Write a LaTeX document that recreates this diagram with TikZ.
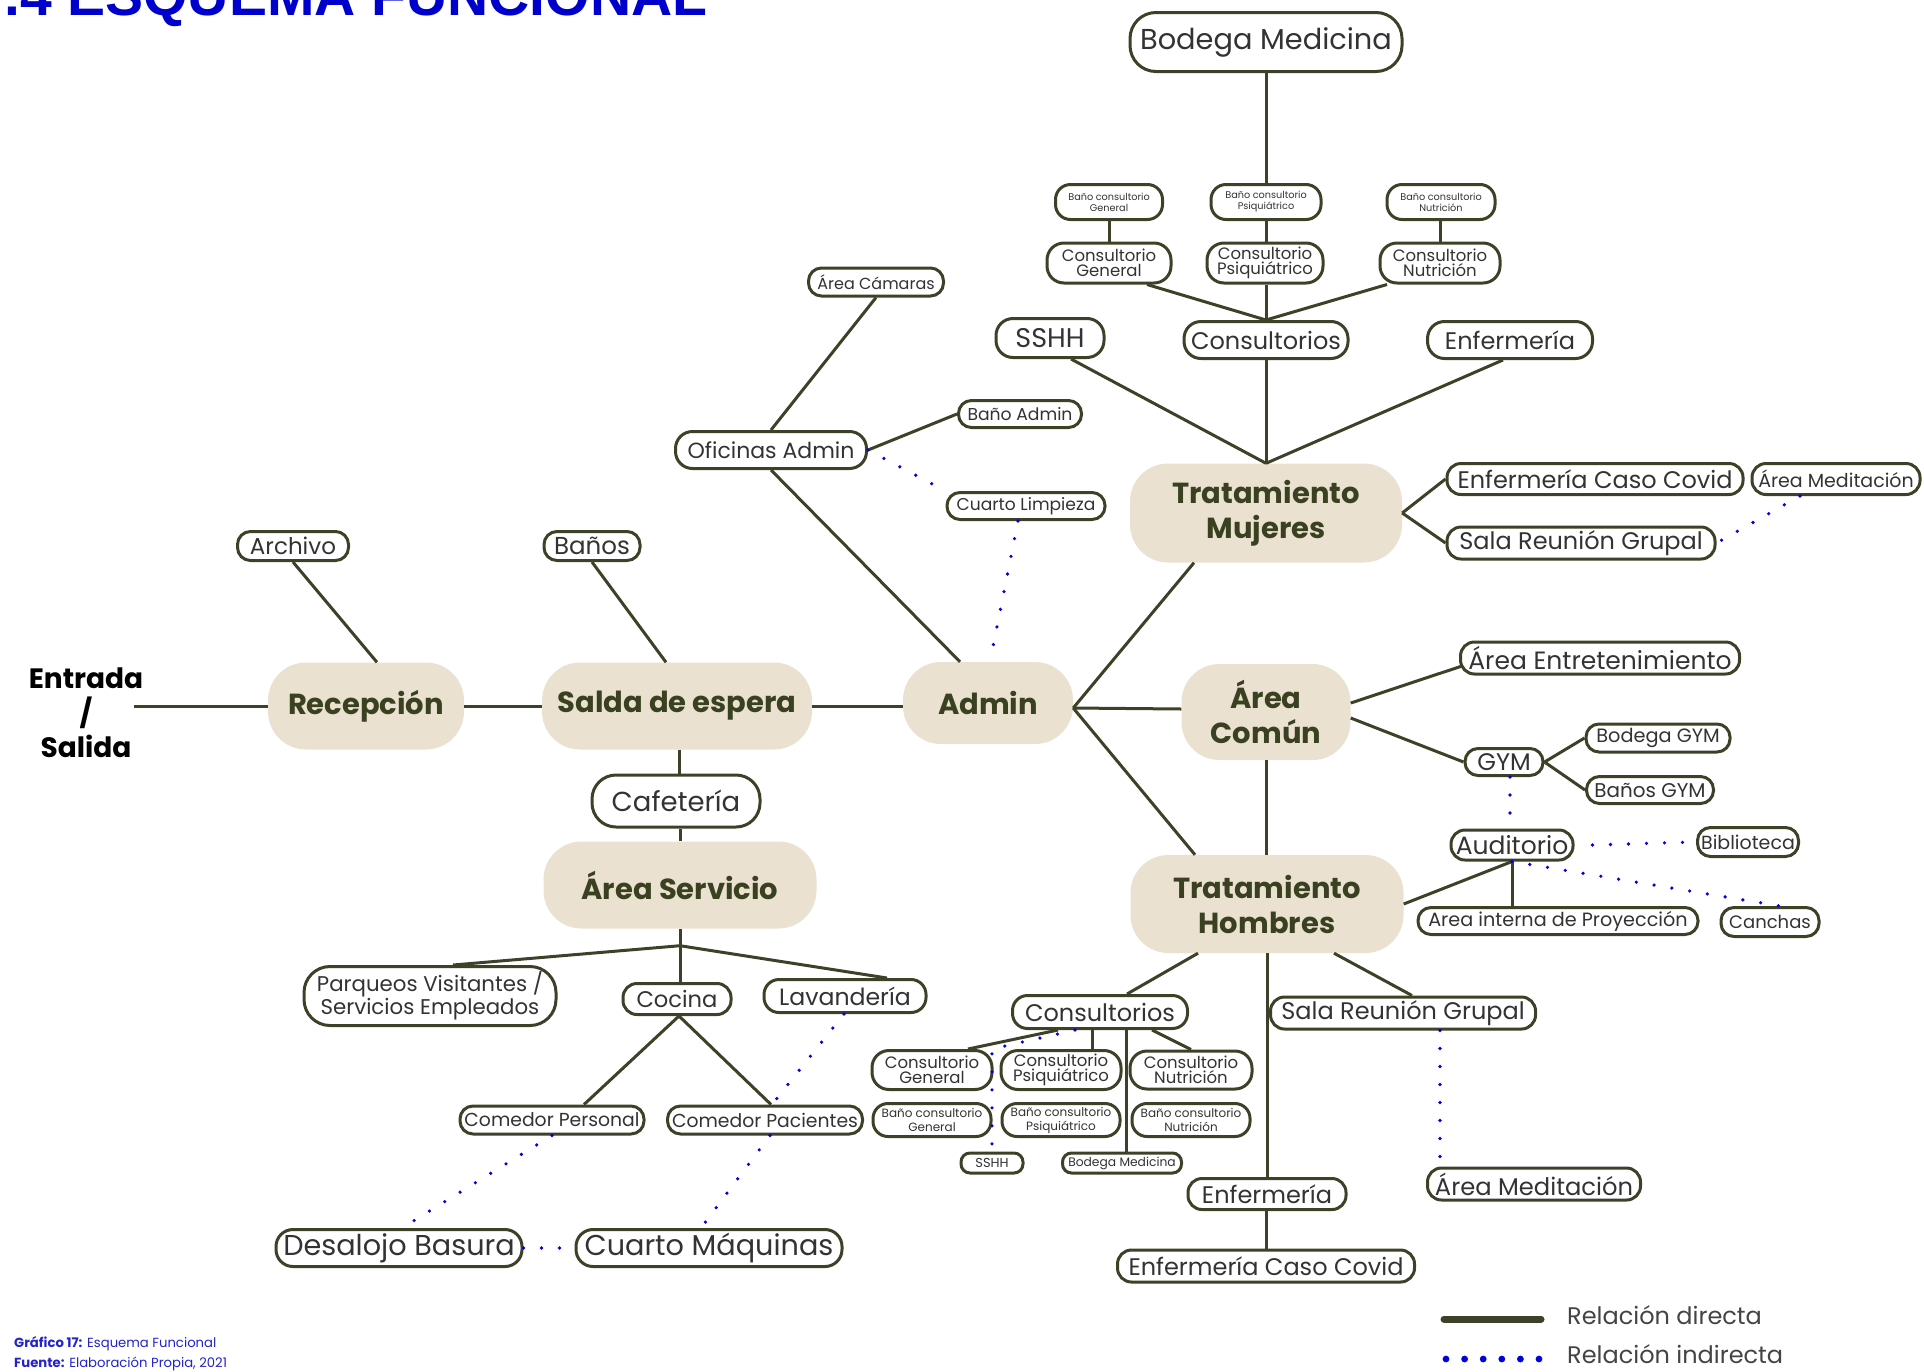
\documentclass[tikz,border=0pt]{standalone}
\usepackage{fontspec}
\setmainfont{Poppins}
\newfontfamily\titlefont{Liberation Sans}
\newcommand\fsz[2]{\fontsize{#1}{#2}\selectfont}
\definecolor{olive}{HTML}{3D4127}
\definecolor{beige}{HTML}{EAE1D0}
\definecolor{coretxt}{HTML}{3A4120}
\definecolor{txt}{HTML}{333333}
\definecolor{dblue}{HTML}{0000E0}
\definecolor{tblue}{HTML}{0000CC}
\definecolor{capblue}{HTML}{2323C8}
\definecolor{legtxt}{HTML}{444444}
\tikzset{
  conn/.style={draw=olive, line width=3pt},
  ind/.style={draw=dblue, line width=3.6pt, line cap=round, dash pattern=on 0pt off 18pt},
  pill/.style={draw=olive, line width=3pt, fill=white, text=txt, inner sep=0pt, align=center, rounded corners=#1},
  pill/.default=13pt,
  core/.style={fill=beige, text=coretxt, inner sep=0pt, align=center, rounded corners=38pt, font=\bfseries\fsz{29}{35}},
}
\begin{document}
\begin{tikzpicture}[x=1pt,y=-1pt]
\useasboundingbox (0,0) rectangle (1924,1371);
\clip (0,0) rectangle (1924,1371);

% title and caption
\node[anchor=base west, inner sep=0pt, font=\titlefont\bfseries\fsz{57}{60}, text=tblue] (title) at (4,15) {.4 ESQUEMA FUNCIONAL};
\node[anchor=base west, inner sep=0pt, font=\fsz{13.2}{15}, text=capblue] (cap1) at (14,1347) {\textbf{Gráfico 17:} Esquema Funcional};
\node[anchor=base west, inner sep=0pt, font=\fsz{13.2}{15}, text=capblue] (cap2) at (14,1367) {\textbf{Fuente:} Elaboración Propia, 2021};

% ---------- upper tree (Tratamiento Mujeres)
\node[pill=26pt, minimum width=272pt, minimum height=59pt, font=\fsz{28.8}{30}] (bodT) at (1266,42) {Bodega Medicina};
\node[pill=15pt, minimum width=107pt, minimum height=35pt, font=\fsz{9.7}{11}] (bgT) at (1109,202) {Baño consultorio\\General};
\node[pill=15pt, minimum width=110pt, minimum height=35pt, font=\fsz{9.7}{11}] (bpT) at (1266,202) {Baño consultorio\\Psiquiátrico};
\node[pill=15pt, minimum width=108pt, minimum height=35pt, font=\fsz{9.7}{11}] (bnT) at (1441,202) {Baño consultorio\\Nutrición};
\node[pill=17pt, minimum width=124pt, minimum height=40pt, font=\fsz{16.5}{15}] (cgT) at (1109,263) {Consultorio\\General};
\node[pill=17pt, minimum width=116pt, minimum height=40pt, font=\fsz{16.5}{15}] (cpT) at (1265,263) {Consultorio\\Psiquiátrico};
\node[pill=17pt, minimum width=120pt, minimum height=40pt, font=\fsz{16.5}{15}] (cnT) at (1440,263) {Consultorio\\Nutrición};
\node[pill=17pt, minimum width=108pt, minimum height=39pt, font=\fsz{27}{29}] (sshhT) at (1050,338) {SSHH};
\node[pill=17pt, minimum width=164pt, minimum height=37pt, font=\fsz{24}{26}] (consT) at (1266,340) {Consultorios};
\node[pill=17pt, minimum width=165pt, minimum height=37pt, font=\fsz{24}{26}] (enfT) at (1510,340) {Enfermería};
\node[core, minimum width=272pt, minimum height=99pt] (tm) at (1266,513) {Tratamiento\\Mujeres};
\node[pill=14pt, minimum width=296pt, minimum height=31pt, font=\fsz{24}{26}] (ecovT) at (1595,479) {Enfermería Caso Covid};
\node[pill=14pt, minimum width=168pt, minimum height=31pt, font=\fsz{19}{21}] (medT) at (1836,479) {Área Meditación};
\node[pill=14pt, minimum width=268pt, minimum height=32pt, font=\fsz{24}{26}] (srgT) at (1581,543) {Sala Reunión Grupal};

% ---------- admin branch
\node[pill=13pt, minimum width=135pt, minimum height=28pt, font=\fsz{16}{18}] (camaras) at (876,282) {Área Cámaras};
\node[pill=17pt, minimum width=191pt, minimum height=37pt, font=\fsz{22}{24}] (ofic) at (771,450) {Oficinas Admin};
\node[pill=13pt, minimum width=123pt, minimum height=27pt, font=\fsz{17.2}{19}] (banoadm) at (1020,414) {Baño Admin};
\node[pill=13pt, minimum width=158pt, minimum height=27pt, font=\fsz{17.1}{19}] (limp) at (1026,506) {Cuarto Limpieza};

% ---------- main row
\node[inner sep=0pt, align=center, font=\bfseries\fsz{28}{34.5}, text=black] (es) at (86,713) {Entrada\\/\\Salida};
\node[core, minimum width=196pt, minimum height=87pt] (recep) at (366,706) {Recepción};
\node[core, minimum width=270pt, minimum height=87pt] (sala) at (677,706) {Salda de espera};
\node[core, minimum width=170pt, minimum height=82pt] (admin) at (988,703) {Admin};
\node[pill=13pt, minimum width=111pt, minimum height=29pt, font=\fsz{23}{25}] (archivo) at (293,546) {Archivo};
\node[pill=13pt, minimum width=96pt, minimum height=29pt, font=\fsz{24.5}{26}] (banos) at (592,546) {Baños};

% ---------- service branch
\node[pill=24pt, minimum width=168pt, minimum height=52pt, font=\fsz{27.5}{29}] (cafe) at (676,801) {Cafetería};
\node[core, minimum width=273pt, minimum height=87pt] (asrv) at (680,885) {Área Servicio};
\coordinate (J) at ([yshift=-17pt]asrv.south);
\node[pill=26pt, minimum width=252pt, minimum height=59pt, font=\fsz{21.3}{23}] (parq) at (430,996) {Parqueos Visitantes /\\Servicios Empleados};
\node[pill=14pt, minimum width=108pt, minimum height=31pt, font=\fsz{22.6}{24}] (cocina) at (677,999) {Cocina};
\node[pill=15pt, minimum width=162pt, minimum height=33pt, font=\fsz{23.6}{26}] (lav) at (845,996) {Lavandería};
\node[pill=13pt, minimum width=184pt, minimum height=28pt, font=\fsz{18.8}{21}] (cper) at (552,1120) {Comedor Personal};
\node[pill=13pt, minimum width=195pt, minimum height=28pt, font=\fsz{18.8}{21}] (cpac) at (765,1120) {Comedor Pacientes};
\node[pill=17pt, minimum width=246pt, minimum height=37pt, font=\fsz{28.7}{31}] (desalojo) at (399,1248) {Desalojo Basura};
\node[pill=17pt, minimum width=266pt, minimum height=37pt, font=\fsz{28.7}{31}] (maquinas) at (709,1248) {Cuarto Máquinas};

% ---------- area comun
\node[core, minimum width=169pt, minimum height=96pt] (ac) at (1266,712) {Área\\Común};
\node[pill=14pt, minimum width=279pt, minimum height=32pt, font=\fsz{25}{27}] (entret) at (1600,658) {Área Entretenimiento};
\node[pill=13pt, minimum width=78pt, minimum height=27pt, font=\fsz{24}{26}] (gym) at (1504,762) {GYM};
\node[pill=13pt, minimum width=144pt, minimum height=28pt, font=\fsz{19.3}{21}] (bgym) at (1658,738) {Bodega GYM};
\node[pill=13pt, minimum width=127pt, minimum height=27pt, font=\fsz{19.9}{21}] (bagym) at (1650,790) {Baños GYM};
\node[pill=14pt, minimum width=122pt, minimum height=30pt, font=\fsz{25}{27}] (audit) at (1512,845) {Auditorio};
\node[pill=13pt, minimum width=101pt, minimum height=29pt, font=\fsz{19}{21}] (biblio) at (1748,842) {Biblioteca};
\node[pill=13pt, minimum width=280pt, minimum height=27pt, font=\fsz{19.2}{21}] (proy) at (1558,921) {Area interna de Proyección};
\node[pill=13pt, minimum width=98pt, minimum height=29pt, font=\fsz{18}{20}] (canchas) at (1770,922) {Canchas};

% ---------- Tratamiento Hombres
\node[core, minimum width=273pt, minimum height=98pt] (th) at (1267,904) {Tratamiento\\Hombres};
\node[pill=15pt, minimum width=175pt, minimum height=33pt, font=\fsz{24}{26}] (consB) at (1100,1012) {Consultorios};
\node[pill=17pt, minimum width=120pt, minimum height=39pt, font=\fsz{16.5}{15}] (cgB) at (932,1070) {Consultorio\\General};
\node[pill=17pt, minimum width=120pt, minimum height=39pt, font=\fsz{16.5}{15}] (cpB) at (1061,1070) {Consultorio\\Psiquiátrico};
\node[pill=17pt, minimum width=122pt, minimum height=38pt, font=\fsz{16.5}{15}] (cnB) at (1191,1070) {Consultorio\\Nutrición};
\node[pill=15pt, minimum width=118pt, minimum height=33pt, font=\fsz{12}{14}] (bgB) at (932,1120) {Baño consultorio\\General};
\node[pill=15pt, minimum width=118pt, minimum height=33pt, font=\fsz{12}{14}] (bpB) at (1061,1120) {Baño consultorio\\Psiquiátrico};
\node[pill=15pt, minimum width=118pt, minimum height=33pt, font=\fsz{12}{14}] (bnB) at (1191,1120) {Baño consultorio\\Nutrición};
\node[pill=9pt, minimum width=62pt, minimum height=20pt, font=\fsz{13}{15}] (sshhB) at (992,1163) {SSHH};
\node[pill=9pt, minimum width=119pt, minimum height=20pt, font=\fsz{12.3}{14}] (bodB) at (1122,1163) {Bodega Medicina};
\node[pill=14pt, minimum width=265pt, minimum height=32pt, font=\fsz{24}{26}] (srgB) at (1403,1013) {Sala Reunión Grupal};
\node[pill=14pt, minimum width=213pt, minimum height=32pt, font=\fsz{24.2}{26}] (medB) at (1534,1184) {Área Meditación};
\node[pill=14pt, minimum width=158pt, minimum height=31pt, font=\fsz{24}{26}] (enfB) at (1267,1194) {Enfermería};
\node[pill=14pt, minimum width=297pt, minimum height=32pt, font=\fsz{24}{26}] (ecovB) at (1266,1266) {Enfermería Caso Covid};

% ---------- direct connectors
\draw[conn] ([xshift=-9pt]es.east |- recep.west) -- (recep.west);
\draw[conn] (recep.east) -- (sala.west);
\draw[conn] (sala.east) -- (admin.west |- sala.east);
\draw[conn] (archivo.south) -- ([xshift=11pt]recep.north);
\draw[conn] (banos.south) -- ([xshift=-11pt]sala.north);
\draw[conn] ([xshift=2pt]sala.south) -- ([xshift=3pt]cafe.north);
\draw[conn] ([xshift=4pt]cafe.south) -- (asrv.north);
\draw[conn] (asrv.south) -- (J);
\draw[conn] (J) -- ([xshift=23pt]parq.north);
\draw[conn] (J) -- ([xshift=3pt]cocina.north);
\draw[conn] (J) -- ([xshift=42pt]lav.north);
\draw[conn] ([xshift=2pt]cocina.south) -- ([xshift=32pt]cper.north);
\draw[conn] ([xshift=2pt]cocina.south) -- ([xshift=6pt]cpac.north);
\draw[conn] (ofic.north) -- (camaras.south);
\draw[conn] (ofic.south) -- ([xshift=-28pt]admin.north);
\draw[conn] (ofic.east) -- (banoadm.west);
\draw[conn] ([yshift=-5pt]admin.east) -- ([xshift=-72pt]tm.south);
\draw[conn] ([yshift=-5pt]admin.east) -- ([yshift=3pt]ac.west);
\draw[conn] ([yshift=-5pt]admin.east) -- ([xshift=-72pt]th.north);
\draw[conn] (tm.north) -- ([xshift=21pt]sshhT.south);
\draw[conn] (tm.north) -- (consT.south);
\draw[conn] (tm.north) -- ([xshift=-7pt]enfT.south);
\draw[conn] (consT.north) -- ([xshift=38pt]cgT.south);
\draw[conn] (consT.north) -- ([xshift=1pt]cpT.south);
\draw[conn] (consT.north) -- ([xshift=-53pt]cnT.south);
\draw[conn] (cgT.north) -- (bgT.south);
\draw[conn] ([xshift=1pt]cpT.north) -- (bpT.south);
\draw[conn] (cnT.north) -- ([xshift=-1pt]bnT.south);
\draw[conn] (bpT.north) -- (bodT.south);
\draw[conn] (tm.east) -- (ecovT.west);
\draw[conn] (tm.east) -- (srgT.west);
\draw[conn] ([yshift=9pt]ac.east) -- ([xshift=3pt,yshift=-8pt]entret.west);
\draw[conn] ([yshift=-6pt]ac.east) -- (gym.west);
\draw[conn] (gym.east) -- (bgym.west);
\draw[conn] (gym.east) -- (bagym.west);
\draw[conn] (ac.south) -- ([xshift=-1pt]th.north);
\draw[conn] (th.east) -- (audit.south);
\draw[conn] (audit.south) -- ([xshift=-46pt]proy.north);
\draw[conn] ([xshift=-69pt]th.south) -- ([xshift=27pt]consB.north);
\draw[conn] ([xshift=67pt]th.south) -- ([xshift=9pt]srgB.north);
\draw[conn] (th.south) -- (enfB.north);
\draw[conn] ([xshift=-1pt]enfB.south) -- (ecovB.north);
\draw[conn] ([xshift=-42pt]consB.south) -- ([xshift=36pt]cgB.north);
\draw[conn] ([xshift=-8pt]consB.south) -- ([xshift=31pt]cpB.north);
\draw[conn] ([xshift=52pt]consB.south) -- (cnB.north);
\draw[conn] ([xshift=26pt]consB.south) -- ([xshift=4pt]bodB.north);

% ---------- indirect connectors
\draw[ind] (ofic.east) -- (limp.north west);
\draw[ind] ([xshift=-8pt]limp.south) -- ([xshift=2pt]admin.north);
\draw[ind] ([xshift=-36pt]medT.south) -- (srgT.east);
\draw[ind] ([xshift=6pt]gym.south) -- ([xshift=-2pt]audit.north);
\draw[ind] ([xshift=18pt]audit.east) -- (biblio.west);
\draw[ind] (audit.south) -- ([xshift=10pt]canchas.north);
\draw[ind] ([xshift=37pt]srgB.south) -- ([xshift=-94pt]medB.north);
\draw[ind] ([xshift=-25pt]consB.south) -- (sshhB.north |- cgB.north) -- (sshhB.north);
\draw[ind] ([xshift=-1pt]lav.south) -- ([xshift=7pt]cpac.north);
\draw[ind] (cper.south) -- ([xshift=3pt]desalojo.north);
\draw[ind] ([xshift=5pt]cpac.south) -- ([xshift=-8pt]maquinas.north);
\draw[ind] (desalojo.east) -- (maquinas.west);

% ---------- legend
\node[anchor=base west, inner sep=0pt, font=\fsz{24}{26}, text=legtxt] (leg1) at (1567,1324) {Relación directa};
\node[anchor=base west, inner sep=0pt, font=\fsz{24}{26}, text=legtxt] (leg2) at (1567,1363) {Relación indirecta};
\draw[olive, line width=7pt, line cap=round] ([xshift=-123pt,yshift=5pt]leg1.base west) -- ([xshift=-26pt,yshift=5pt]leg1.base west);
\foreach \i in {0,...,5}
  \fill[dblue] ([xshift={-121pt+\i*18.6pt}, yshift=4pt]leg2.base west) circle (3.4pt);
\end{tikzpicture}
\end{document}
